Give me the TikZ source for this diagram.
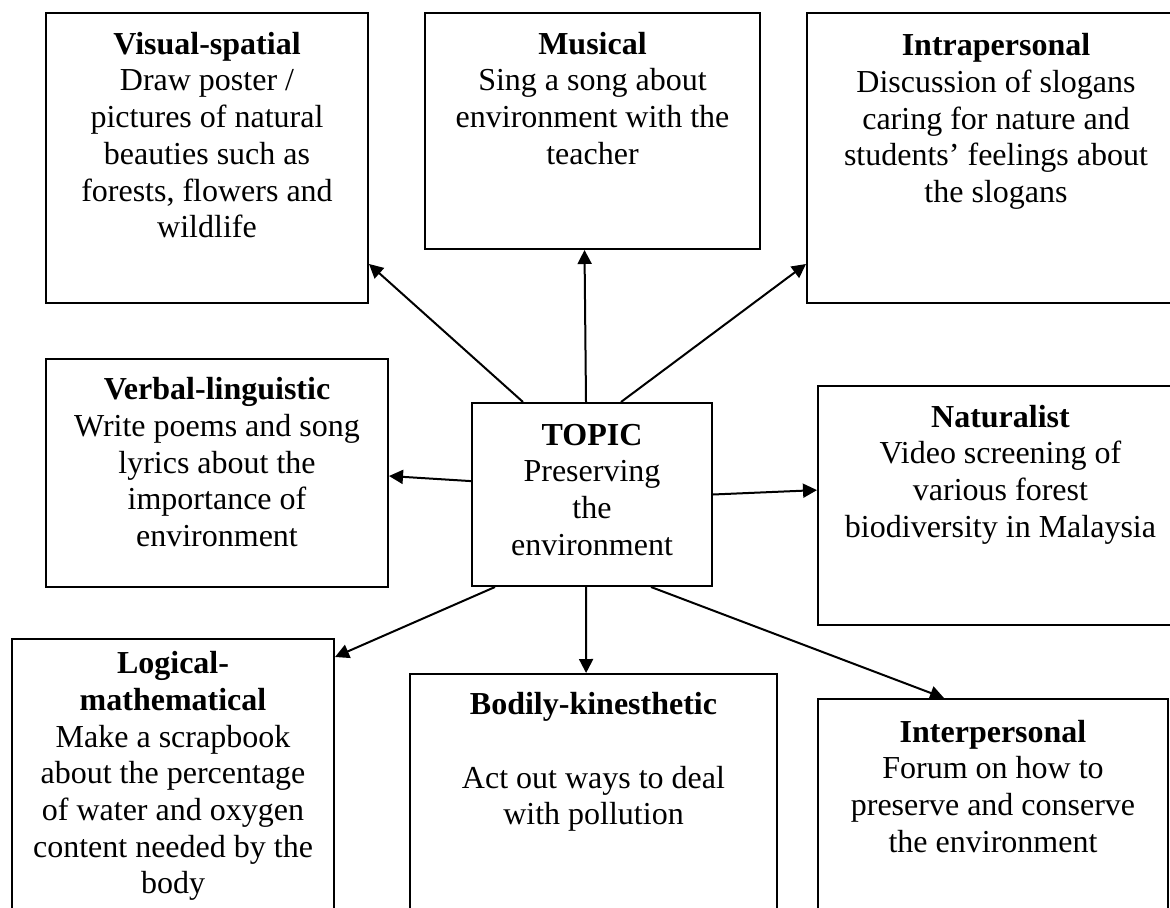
\documentclass[tikz,border=0pt]{standalone}
\usepackage{fontspec}
\setmainfont{Liberation Serif}
\usetikzlibrary{arrows.meta}

% text of one card: [top gap]{width}{height}{lines}
\newcommand{\cardtext}[4][7.8pt]{\parbox[t][#3][t]{#2}{\centering\vspace*{#1}\strut#4}}

\begin{document}
\begin{tikzpicture}[
  x=0.5pt, y=-0.5pt,
  card/.style={draw, line width=1pt, inner sep=0pt, anchor=north west, font=\fontsize{16}{18.35}\selectfont},
  arrow/.style={-{Triangle[length=7pt, width=7pt]}, line width=1pt}
]
  \useasboundingbox (0,0) rectangle (1170,908);

  % top row
  \node[card] (visual) at (45,12) {\cardtext{161pt}{145pt}{\textbf{Visual-spatial}\\Draw poster /\\pictures of natural\\beauties such as\\forests, flowers and\\wildlife}};
  \node[card] (musical) at (424,12) {\cardtext{167.5pt}{118pt}{\textbf{Musical}\\Sing a song about\\environment with the\\teacher}};
  \node[card] (intra) at (806,12) {\cardtext[8.5pt]{189pt}{145pt}{\textbf{Intrapersonal}\\Discussion of slogans\\caring for nature and\\students' feelings about\\the slogans}};

  % middle row
  \node[card] (verbal) at (45,358) {\cardtext[7.5pt]{171pt}{114pt}{\textbf{Verbal-linguistic}\\Write poems and song\\lyrics about the\\importance of\\environment}};
  \node[card] (topic) at (471,402) {\cardtext[8.3pt]{120pt}{91.5pt}{\textbf{TOPIC}\\Preserving\\the\\environment}};
  \node[card] (natural) at (817,385) {\cardtext{182.5pt}{119.5pt}{\textbf{Naturalist}\\Video screening of\\various forest\\biodiversity in Malaysia}};

  % bottom row
  \node[card] (logical) at (11,638) {\cardtext[4.5pt]{161pt}{141pt}{\textbf{Logical-}\\\textbf{mathematical}\\Make a scrapbook\\about the percentage\\of water and oxygen\\content needed by the\\body}};
  \node[card] (bodily) at (409,673) {\cardtext[7.5pt]{183.5pt}{123.5pt}{\textbf{Bodily-kinesthetic}\\[18.35pt]Act out ways to deal\\with pollution}};
  \node[card] (inter) at (817,698) {\cardtext[8.8pt]{175pt}{111pt}{\textbf{Interpersonal}\\Forum on how to\\preserve and conserve\\the environment}};

  \draw[arrow] ([xshift=26pt]topic.north west) -- ([yshift=20pt]visual.south east);
  \draw[arrow] ([xshift=-3pt]topic.north) -- ([xshift=-4pt]musical.south);
  \draw[arrow] ([xshift=14.5pt]topic.north) -- ([yshift=20pt]intra.south west);
  \draw[arrow] ([yshift=6.7pt]topic.west) -- ([yshift=-1.5pt]verbal.east);
  \draw[arrow] (topic.east) -- ([yshift=7.7pt]natural.west);
  \draw[arrow] ([xshift=12pt]topic.south west) -- ([yshift=-9.5pt]logical.north east);
  \draw[arrow] ([xshift=-3pt]topic.south) -- ([xshift=-3.7pt]bodily.north);
  \draw[arrow] ([xshift=29.5pt]topic.south) -- ([xshift=-24.5pt]inter.north);
\end{tikzpicture}
\end{document}
